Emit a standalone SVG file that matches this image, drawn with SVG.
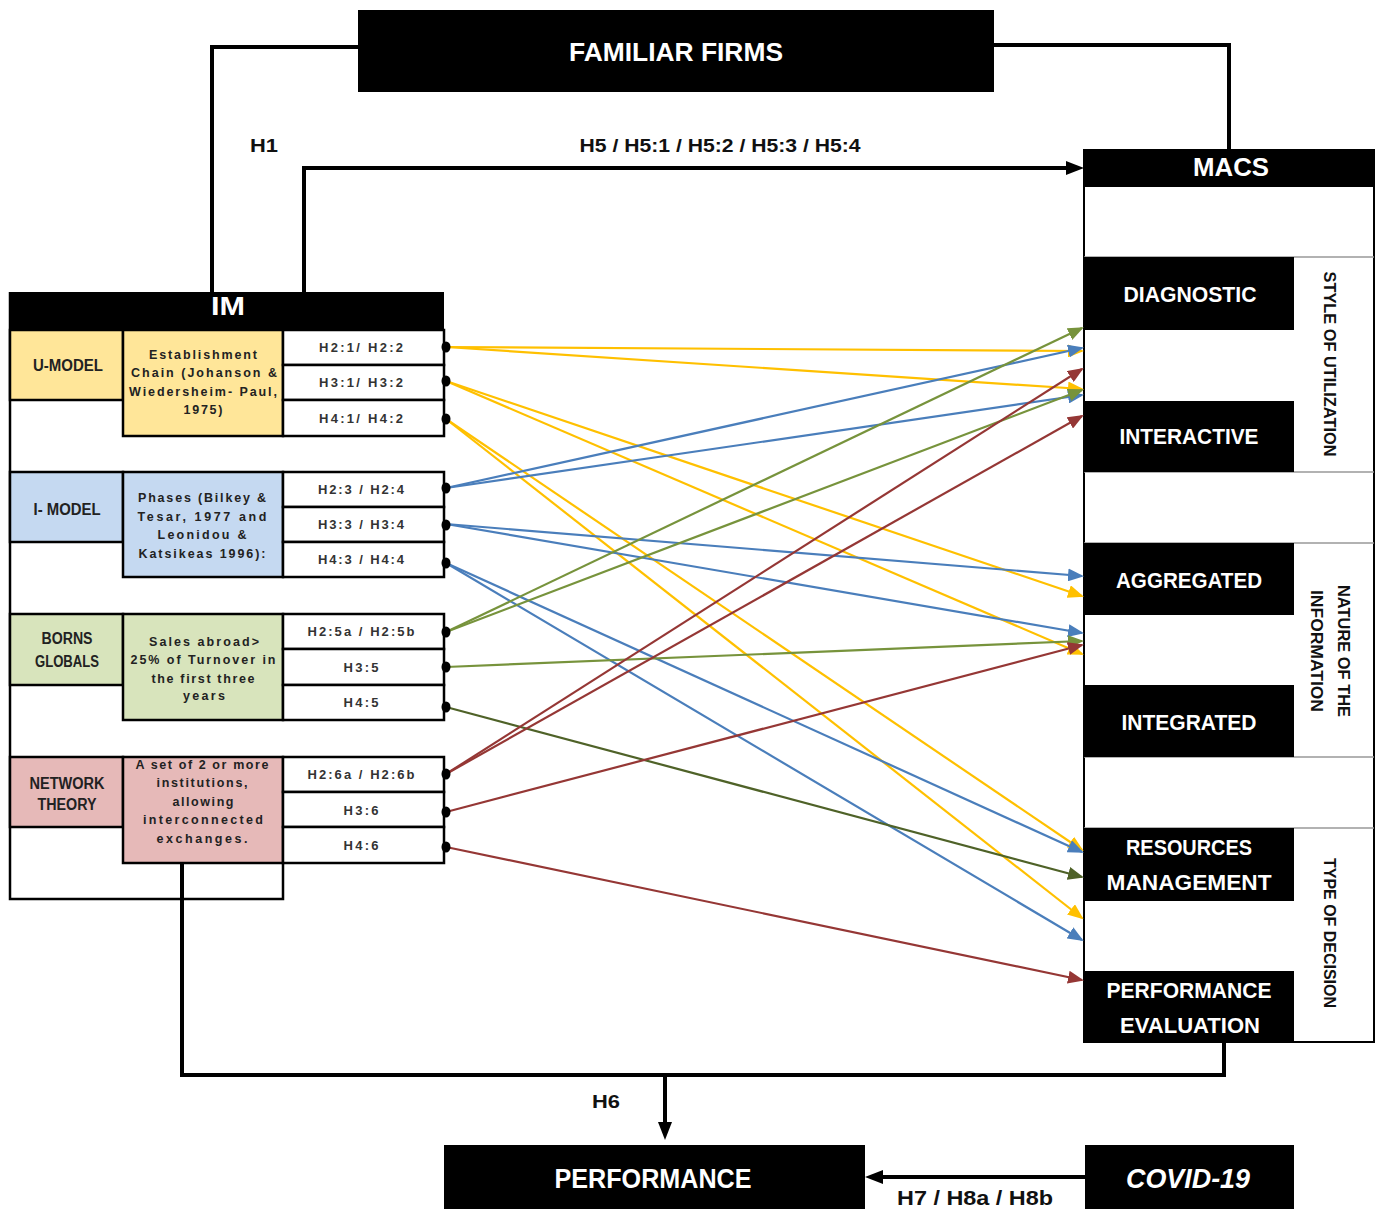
<svg xmlns="http://www.w3.org/2000/svg" width="1378" height="1209" viewBox="0 0 1378 1209">
<defs>
<style>
text{font-family:"Liberation Sans",Arial,sans-serif;font-weight:bold;}
.w{fill:#fff;}
.k{fill:#111;}
.blk{fill:#000;}
.bx{stroke:#000;stroke-width:2.5;}
.hr{fill:#fff;stroke:#000;stroke-width:2.5;}
.ht{font-size:13px;fill:#333;text-anchor:middle;}
.dt{font-size:12.5px;fill:#222;text-anchor:middle;}
.lt{font-size:16px;fill:#222;text-anchor:middle;}
.mt{font-size:22px;fill:#fff;text-anchor:middle;}
.rt{font-size:17px;fill:#111;text-anchor:middle;}
.con{fill:none;stroke-width:2.2;}
.blkline{fill:none;stroke:#000;stroke-width:4;}
.sep{stroke:#999;stroke-width:1.5;}
</style>
<marker id="aY" viewBox="0 0 16 13" markerUnits="userSpaceOnUse" markerWidth="16" markerHeight="13" refX="14" refY="6.5" orient="auto"><path d="M0,0 L16,6.5 L0,13 z" fill="#FFC000"/></marker>
<marker id="aB" viewBox="0 0 16 13" markerUnits="userSpaceOnUse" markerWidth="16" markerHeight="13" refX="14" refY="6.5" orient="auto"><path d="M0,0 L16,6.5 L0,13 z" fill="#4A7EBB"/></marker>
<marker id="aG" viewBox="0 0 16 13" markerUnits="userSpaceOnUse" markerWidth="16" markerHeight="13" refX="14" refY="6.5" orient="auto"><path d="M0,0 L16,6.5 L0,13 z" fill="#77933C"/></marker>
<marker id="aD" viewBox="0 0 16 13" markerUnits="userSpaceOnUse" markerWidth="16" markerHeight="13" refX="14" refY="6.5" orient="auto"><path d="M0,0 L16,6.5 L0,13 z" fill="#4F6228"/></marker>
<marker id="aR" viewBox="0 0 16 13" markerUnits="userSpaceOnUse" markerWidth="16" markerHeight="13" refX="14" refY="6.5" orient="auto"><path d="M0,0 L16,6.5 L0,13 z" fill="#953735"/></marker>
<marker id="aK" viewBox="0 0 18 14" markerUnits="userSpaceOnUse" markerWidth="18" markerHeight="14" refX="0" refY="7" orient="auto"><path d="M0,0 L18,7 L0,14 z" fill="#000"/></marker>
</defs>
<rect width="1378" height="1209" fill="#fff"/>

<!-- FAMILIAR FIRMS -->
<g id="familiar-firms">
<rect x="358" y="10" width="636" height="82" class="blk"/>
<text x="676" y="61" class="w" font-size="25" text-anchor="middle" textLength="214" lengthAdjust="spacingAndGlyphs">FAMILIAR FIRMS</text>
</g>

<!-- IM panel -->
<g id="im">
<path d="M10,292 V899 H283 V862" fill="none" stroke="#000" stroke-width="2.5"/>
<rect x="10" y="292" width="434" height="38" class="blk"/>
<text x="228" y="315" class="w" font-size="25" text-anchor="middle" textLength="34" lengthAdjust="spacingAndGlyphs">IM</text>
</g>

<g id="u-model">
<rect x="10" y="330" width="113" height="70" fill="#FFE699" class="bx"/>
<rect x="123" y="330" width="160" height="106" fill="#FFE699" class="bx"/>
<text x="68" y="371" class="lt" textLength="70" lengthAdjust="spacingAndGlyphs">U-MODEL</text>
<text x="203" y="359" class="dt" textLength="108" lengthAdjust="spacing">Establishment</text>
<text x="204" y="377" class="dt" textLength="146" lengthAdjust="spacing">Chain (Johanson &amp;</text>
<text x="203" y="396" class="dt" textLength="148" lengthAdjust="spacing">Wiedersheim- Paul,</text>
<text x="203" y="414" class="dt" textLength="39" lengthAdjust="spacing">1975)</text>
<rect x="283" y="330" width="161" height="35" class="hr"/>
<rect x="283" y="365" width="161" height="35" class="hr"/>
<rect x="283" y="400" width="161" height="36" class="hr"/>
<text x="361" y="352" class="ht" textLength="84" lengthAdjust="spacing">H2:1/ H2:2</text>
<text x="361" y="387" class="ht" textLength="84" lengthAdjust="spacing">H3:1/ H3:2</text>
<text x="361" y="423" class="ht" textLength="84" lengthAdjust="spacing">H4:1/ H4:2</text>
</g>

<g id="i-model">
<rect x="10" y="472" width="113" height="70" fill="#C5D9F1" class="bx"/>
<rect x="123" y="472" width="160" height="105" fill="#C5D9F1" class="bx"/>
<text x="67" y="515" class="lt" textLength="67" lengthAdjust="spacingAndGlyphs">I- MODEL</text>
<text x="202" y="502" class="dt" textLength="128" lengthAdjust="spacing">Phases (Bilkey &amp;</text>
<text x="202" y="521" class="dt" textLength="129" lengthAdjust="spacing">Tesar, 1977  and</text>
<text x="202" y="539" class="dt" textLength="89" lengthAdjust="spacing">Leonidou &amp;</text>
<text x="202" y="558" class="dt" textLength="127" lengthAdjust="spacing">Katsikeas 1996):</text>
<rect x="283" y="472" width="161" height="35" class="hr"/>
<rect x="283" y="507" width="161" height="35" class="hr"/>
<rect x="283" y="542" width="161" height="35" class="hr"/>
<text x="361" y="494" class="ht" textLength="86" lengthAdjust="spacing">H2:3 / H2:4</text>
<text x="361" y="529" class="ht" textLength="86" lengthAdjust="spacing">H3:3 / H3:4</text>
<text x="361" y="564" class="ht" textLength="86" lengthAdjust="spacing">H4:3 / H4:4</text>
</g>

<g id="borns-globals">
<rect x="10" y="614" width="113" height="71" fill="#D8E4BC" class="bx"/>
<rect x="123" y="614" width="160" height="106" fill="#D8E4BC" class="bx"/>
<text x="67" y="644" class="lt" textLength="51" lengthAdjust="spacingAndGlyphs">BORNS</text>
<text x="67" y="667" class="lt" textLength="64" lengthAdjust="spacingAndGlyphs">GLOBALS</text>
<text x="204" y="646" class="dt" textLength="110" lengthAdjust="spacing">Sales abroad&gt;</text>
<text x="203" y="664" class="dt" textLength="145" lengthAdjust="spacing">25% of Turnover in</text>
<text x="203" y="683" class="dt" textLength="103" lengthAdjust="spacing">the first three</text>
<text x="204" y="700" class="dt" textLength="42" lengthAdjust="spacing">years</text>
<rect x="283" y="614" width="161" height="35" class="hr"/>
<rect x="283" y="649" width="161" height="36" class="hr"/>
<rect x="283" y="685" width="161" height="35" class="hr"/>
<text x="361" y="636" class="ht" textLength="107" lengthAdjust="spacing">H2:5a / H2:5b</text>
<text x="361" y="672" class="ht" textLength="35" lengthAdjust="spacing">H3:5</text>
<text x="361" y="707" class="ht" textLength="35" lengthAdjust="spacing">H4:5</text>
</g>

<g id="network-theory">
<rect x="10" y="757" width="113" height="70" fill="#E6B9B8" class="bx"/>
<rect x="123" y="757" width="160" height="106" fill="#E6B9B8" class="bx"/>
<text x="67" y="789" class="lt" textLength="75" lengthAdjust="spacingAndGlyphs">NETWORK</text>
<text x="67" y="810" class="lt" textLength="59" lengthAdjust="spacingAndGlyphs">THEORY</text>
<text x="202" y="769" class="dt" textLength="133" lengthAdjust="spacing">A set of 2 or more</text>
<text x="202" y="787" class="dt" textLength="91" lengthAdjust="spacing">institutions,</text>
<text x="203" y="806" class="dt" textLength="61" lengthAdjust="spacing">allowing</text>
<text x="203" y="824" class="dt" textLength="120" lengthAdjust="spacing">interconnected</text>
<text x="202" y="843" class="dt" textLength="91" lengthAdjust="spacing">exchanges.</text>
<rect x="283" y="757" width="161" height="35" class="hr"/>
<rect x="283" y="792" width="161" height="35" class="hr"/>
<rect x="283" y="827" width="161" height="36" class="hr"/>
<text x="361" y="779" class="ht" textLength="107" lengthAdjust="spacing">H2:6a / H2:6b</text>
<text x="361" y="815" class="ht" textLength="35" lengthAdjust="spacing">H3:6</text>
<text x="361" y="850" class="ht" textLength="35" lengthAdjust="spacing">H4:6</text>
</g>

<!-- MACS -->
<g id="macs">
<rect x="1084" y="150" width="290" height="892" fill="#fff" stroke="#000" stroke-width="2"/>
<rect x="1084" y="150" width="290" height="37" class="blk"/>
<text x="1231" y="176" class="w" font-size="26" text-anchor="middle" textLength="76" lengthAdjust="spacingAndGlyphs">MACS</text>
<line x1="1084" y1="257" x2="1374" y2="257" class="sep"/>
<line x1="1084" y1="472" x2="1374" y2="472" class="sep"/>
<line x1="1084" y1="543" x2="1374" y2="543" class="sep"/>
<line x1="1084" y1="757" x2="1374" y2="757" class="sep"/>
<line x1="1084" y1="828" x2="1374" y2="828" class="sep"/>
<text transform="translate(1330,364) rotate(90)" x="0" y="6" class="rt" textLength="185" lengthAdjust="spacingAndGlyphs">STYLE OF UTILIZATION</text>
<text transform="translate(1344,651) rotate(90)" x="0" y="6" class="rt" textLength="132" lengthAdjust="spacingAndGlyphs">NATURE OF THE</text>
<text transform="translate(1317,651) rotate(90)" x="0" y="6" class="rt" textLength="122" lengthAdjust="spacingAndGlyphs">INFORMATION</text>
<text transform="translate(1330,933) rotate(90)" x="0" y="6" class="rt" textLength="150" lengthAdjust="spacingAndGlyphs">TYPE OF DECISION</text>
</g>
<g id="diagnostic"><rect x="1084" y="257" width="210" height="73" class="blk"/><text x="1190" y="302" class="mt" textLength="133" lengthAdjust="spacingAndGlyphs">DIAGNOSTIC</text></g>
<g id="interactive"><rect x="1084" y="401" width="210" height="71" class="blk"/><text x="1189" y="444" class="mt" textLength="139" lengthAdjust="spacingAndGlyphs">INTERACTIVE</text></g>
<g id="aggregated"><rect x="1084" y="543" width="210" height="72" class="blk"/><text x="1189" y="588" class="mt" textLength="146" lengthAdjust="spacingAndGlyphs">AGGREGATED</text></g>
<g id="integrated"><rect x="1084" y="685" width="210" height="72" class="blk"/><text x="1189" y="730" class="mt" textLength="135" lengthAdjust="spacingAndGlyphs">INTEGRATED</text></g>
<g id="resources-management"><rect x="1084" y="828" width="210" height="73" class="blk"/><text x="1189" y="855" class="mt" textLength="126" lengthAdjust="spacingAndGlyphs">RESOURCES</text><text x="1189" y="890" class="mt" textLength="165" lengthAdjust="spacingAndGlyphs">MANAGEMENT</text></g>
<g id="performance-evaluation"><rect x="1084" y="971" width="210" height="71" class="blk"/><text x="1189" y="998" class="mt" textLength="165" lengthAdjust="spacingAndGlyphs">PERFORMANCE</text><text x="1190" y="1033" class="mt" textLength="140" lengthAdjust="spacingAndGlyphs">EVALUATION</text></g>

<!-- PERFORMANCE / COVID -->
<g id="performance"><rect x="444" y="1145" width="421" height="64" class="blk"/><text x="653" y="1188" class="w" font-size="27" text-anchor="middle" textLength="197" lengthAdjust="spacingAndGlyphs">PERFORMANCE</text></g>
<g id="covid"><rect x="1085" y="1145" width="209" height="64" class="blk"/><text x="1188" y="1188" class="w" font-size="27" font-style="italic" text-anchor="middle" textLength="124" lengthAdjust="spacingAndGlyphs">COVID-19</text></g>

<!-- connectors -->
<g id="connectors">
<path d="M358,47 H212 V292" class="blkline"/>
<path d="M994,45 H1229 V150" class="blkline"/>
<path d="M304,292 V168 H1066" class="blkline" marker-end="url(#aK)"/>
<path d="M1224,1042 V1075 H182 V863" class="blkline"/>
<path d="M665,1075 V1122" class="blkline" marker-end="url(#aK)"/>
<path d="M1085,1177 H883" class="blkline" marker-end="url(#aK)"/>

<g stroke="#FFC000" class="con">
<line x1="446" y1="347" x2="1082" y2="351" marker-end="url(#aY)"/>
<line x1="446" y1="347" x2="1082" y2="389" marker-end="url(#aY)"/>
<line x1="446" y1="381" x2="1082" y2="596" marker-end="url(#aY)"/>
<line x1="446" y1="381" x2="1082" y2="654" marker-end="url(#aY)"/>
<line x1="446" y1="419" x2="1082" y2="850" marker-end="url(#aY)"/>
<line x1="446" y1="419" x2="1082" y2="918" marker-end="url(#aY)"/>
</g>
<g stroke="#4A7EBB" class="con">
<line x1="446" y1="488" x2="1082" y2="348" marker-end="url(#aB)"/>
<line x1="446" y1="488" x2="1082" y2="395" marker-end="url(#aB)"/>
<line x1="446" y1="524" x2="1082" y2="576" marker-end="url(#aB)"/>
<line x1="446" y1="524" x2="1082" y2="633" marker-end="url(#aB)"/>
<line x1="446" y1="563" x2="1082" y2="852" marker-end="url(#aB)"/>
<line x1="446" y1="563" x2="1082" y2="940" marker-end="url(#aB)"/>
</g>
<g stroke="#77933C" class="con">
<line x1="446" y1="632" x2="1082" y2="328" marker-end="url(#aG)"/>
<line x1="446" y1="632" x2="1082" y2="390" marker-end="url(#aG)"/>
<line x1="446" y1="667" x2="1082" y2="641" marker-end="url(#aG)"/>
</g>
<line x1="446" y1="707" x2="1082" y2="877" stroke="#4F6228" class="con" marker-end="url(#aD)"/>
<g stroke="#953735" class="con">
<line x1="446" y1="774" x2="1082" y2="369" marker-end="url(#aR)"/>
<line x1="446" y1="774" x2="1082" y2="416" marker-end="url(#aR)"/>
<line x1="446" y1="812" x2="1082" y2="645" marker-end="url(#aR)"/>
<line x1="446" y1="847" x2="1082" y2="980" marker-end="url(#aR)"/>
</g>
<g fill="#000">
<ellipse cx="446" cy="347" rx="4.5" ry="5.5"/>
<ellipse cx="446" cy="381" rx="4.5" ry="5.5"/>
<ellipse cx="446" cy="419" rx="4.5" ry="5.5"/>
<ellipse cx="446" cy="488" rx="4.5" ry="5.5"/>
<ellipse cx="446" cy="525" rx="4.5" ry="5.5"/>
<ellipse cx="446" cy="563" rx="4.5" ry="5.5"/>
<ellipse cx="446" cy="632" rx="4.5" ry="5.5"/>
<ellipse cx="446" cy="667" rx="4.5" ry="5.5"/>
<ellipse cx="446" cy="707" rx="4.5" ry="5.5"/>
<ellipse cx="446" cy="774" rx="4.5" ry="5.5"/>
<ellipse cx="446" cy="812" rx="4.5" ry="5.5"/>
<ellipse cx="446" cy="847" rx="4.5" ry="5.5"/>
</g>
<text x="264" y="152" class="k" font-size="18" text-anchor="middle" textLength="28" lengthAdjust="spacingAndGlyphs">H1</text>
<text x="720" y="152" class="k" font-size="18" text-anchor="middle" textLength="281" lengthAdjust="spacingAndGlyphs">H5 / H5:1 / H5:2 / H5:3 / H5:4</text>
<text x="606" y="1108" class="k" font-size="18" text-anchor="middle" textLength="28" lengthAdjust="spacingAndGlyphs">H6</text>
<text x="975" y="1205" class="k" font-size="20" text-anchor="middle" textLength="156" lengthAdjust="spacingAndGlyphs">H7 / H8a / H8b</text>
</g>
</svg>
